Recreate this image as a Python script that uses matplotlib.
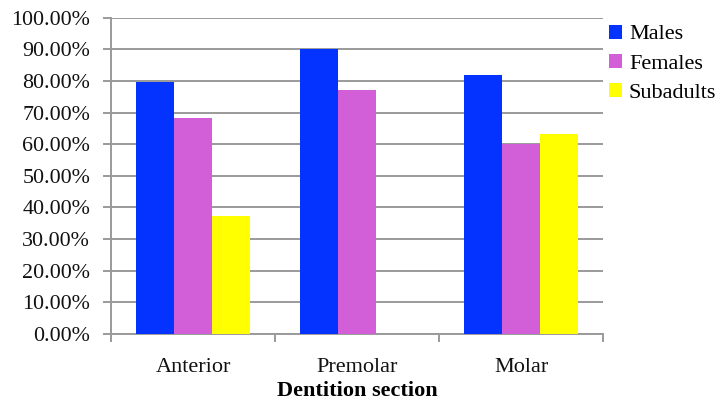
import matplotlib
matplotlib.use("Agg")
import matplotlib.pyplot as plt
import numpy as np
from matplotlib.ticker import FuncFormatter, FixedLocator

categories = ["Anterior", "Premolar", "Molar"]
series_names = ["Males", "Females", "Subadults"]
males = [79.7, 90.0, 81.9]
females = [68.2, 77.1, 59.9]
subadults = [37.4, 0.0, 63.2]
colors = ["#0433FF", "#D35FD8", "#FFFF00"]

plt.rcParams['font.family'] = ['Liberation Serif', 'DejaVu Serif']

fig = plt.figure(figsize=(7.2, 4.01), dpi=100)
ax = fig.add_axes([0.1542, 0.1671, 0.6833, 0.789])

x = np.arange(len(categories))
w = 0.23
for i, (vals, name, c) in enumerate(zip([males, females, subadults], series_names, colors)):
    ax.bar(x + (i - 1) * w, vals, width=w, color=c, label=name, zorder=3)

ax.set_xlim(-0.5, 2.5)
ax.set_ylim(0, 100)
ax.set_yticks(np.arange(0, 101, 10))
ax.yaxis.set_major_formatter(FuncFormatter(lambda v, p: f"{v:.2f}%"))
ax.yaxis.grid(True, color="#9a9a9a", linewidth=1.4, zorder=0)
ax.set_axisbelow(True)

ax.set_xticks(x)
ax.set_xticklabels(categories)
ax.xaxis.set_minor_locator(FixedLocator([-0.5, 0.5, 1.5, 2.5]))
ax.tick_params(axis='x', which='major', length=0, pad=17, labelsize=16, colors='#111111')
ax.tick_params(axis='x', which='minor', length=6, width=1.4, color="#9a9a9a")
ax.tick_params(axis='y', length=6, width=1.4, color="#9a9a9a", labelsize=15.8, labelcolor='#111111', pad=9)

for s in ["top", "right"]:
    ax.spines[s].set_visible(False)
for s in ["left", "bottom"]:
    ax.spines[s].set_color("#9a9a9a")
    ax.spines[s].set_linewidth(1.4)

ax.set_xlabel("Dentition section", fontweight="bold", fontsize=16, labelpad=3)

leg = ax.legend(loc="upper left", bbox_to_anchor=(1.012, 0.978), frameon=False,
                fontsize=16, handlelength=0.6, handleheight=0.6,
                handletextpad=0.3, labelspacing=0.42, borderaxespad=0, borderpad=0)

fig.savefig("out.png", dpi=100)
